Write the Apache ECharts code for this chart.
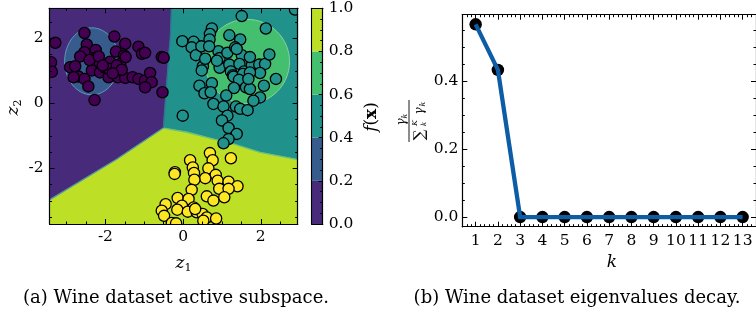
<!DOCTYPE html>
<html><head><meta charset="utf-8">
<script src="https://cdn.jsdelivr.net/npm/echarts@6/dist/echarts.min.js"></script>
<style>html,body{margin:0;padding:0;background:#fff}#c{width:756px;height:320px}</style>
</head><body><div id="c"></div>
<script>
// ---------------- data ----------------
// (a) active subspace: axis ranges and ticks
const zXRange = [-3.44, 2.95];
const zYRange = [-3.71, 2.92];
const zMajorTicks = [-2, 0, 2];
const zXMinorTicks = [-3, -2.5, -1.5, -1, -0.5, 0.5, 1, 1.5, 2.5];
const zYMinorTicks = [-3.5, -3, -2.5, -1.5, -1, -0.5, 0.5, 1, 1.5, 2.5];

// contour levels of f(x) and their colours
const levels = [0, 0.2, 0.4, 0.6, 0.8, 1.0];
const levelColors = ['#472a7a', '#375b8d', '#21918c', '#44bf70', '#bddf26'];
const cbMinorTicks = [0.05,0.1,0.15,0.25,0.3,0.35,0.45,0.5,0.55,0.65,0.7,0.75,0.85,0.9,0.95];

// region boundaries (z1, z2)
const edgeLowMid = [[-0.30, 2.92], [-0.33, 2.0], [-0.36, 1.6], [-0.41, 0.8], [-0.46, 0.0], [-0.51, -0.76]];
const edgeLowHigh = [[-0.51, -0.76], [-1.71, -1.72], [-3.44, -2.97]];
const edgeMidHigh = [[-0.51, -0.76], [0.10, -0.89], [0.78, -1.10], [1.29, -1.25], [1.98, -1.51], [2.95, -1.73]];
// elliptic blobs: [cz1, cz2, rz1, rz2, level index]
const blobLow = [-2.35, 1.29, 0.70, 1.03, 1];
const blobMid = [1.65, 1.28, 1.09, 1.30, 3];

// samples by class
const class0 = [[-3.29,1.86],[-3.40,1.26],[-3.38,0.97],[-2.54,2.16],[-1.77,2.05],[-2.48,1.81],[-1.49,1.83],[-1.15,1.74],[-2.54,1.57],[-2.25,1.64],[-2.65,1.44],[-2.27,1.39],[-1.73,1.59],[-1.52,1.47],[-1.06,1.52],[-0.98,1.55],[-0.55,1.42],[-0.50,1.40],[-2.91,1.11],[-2.78,1.14],[-2.14,1.23],[-1.88,1.28],[-1.62,1.21],[-2.69,0.82],[-2.54,0.75],[-2.35,1.01],[-2.14,0.95],[-2.01,1.09],[-1.88,1.01],[-1.92,0.80],[-1.68,0.80],[-1.49,0.78],[-1.30,0.80],[-1.15,0.75],[-0.98,0.70],[-0.85,0.93],[-0.81,0.65],[-2.44,0.52],[-0.98,0.49],[-2.28,0.10],[-0.53,0.34],[-2.82,0.80],[-1.92,1.06],[-2.41,1.33],[-2.17,1.44],[-2.07,1.16],[-1.71,1.16],[-1.58,1.03],[-1.48,1.42],[-1.81,0.92]];
const class1 = [[1.51,2.68],[2.13,2.30],[2.88,2.88],[0.74,2.30],[0.69,2.13],[0.68,1.96],[1.19,2.09],[1.47,1.96],[-0.02,1.91],[0.27,1.89],[0.22,1.72],[0.33,1.48],[0.51,1.14],[0.57,1.37],[0.91,1.60],[0.94,1.39],[0.94,1.09],[1.14,1.55],[1.34,1.72],[1.51,1.48],[1.19,1.19],[1.45,1.21],[1.23,0.98],[1.28,0.86],[1.57,0.98],[1.77,1.17],[1.96,1.19],[2.11,1.21],[2.22,1.50],[1.98,0.93],[0.42,0.54],[0.74,0.62],[0.55,0.31],[0.71,0.34],[1.30,0.82],[1.54,0.90],[1.72,0.95],[2.39,0.75],[1.44,0.72],[1.31,0.47],[1.62,0.49],[1.72,0.44],[2.08,0.54],[1.11,0.24],[1.98,0.18],[1.81,0.08],[0.78,-0.02],[1.04,-0.10],[1.36,-0.10],[1.47,-0.17],[1.66,-0.21],[-0.01,-0.38],[1.14,-0.38],[1.00,-0.53],[1.17,-0.76],[1.38,-0.94],[1.17,-1.10],[1.04,-1.23],[0.48,1.01],[1.72,1.42],[0.47,1.75],[0.67,1.75],[1.38,1.67],[0.87,1.31],[1.68,0.75]];
const class2 = [[0.69,-1.53],[1.23,-1.69],[0.76,-1.75],[0.18,-1.75],[-0.21,-2.12],[-0.22,-2.17],[0.25,-1.97],[0.28,-2.14],[0.65,-2.00],[0.84,-2.20],[0.57,-2.30],[0.29,-2.35],[0.89,-2.38],[1.17,-2.41],[1.40,-2.55],[0.93,-2.63],[1.17,-2.63],[0.22,-2.66],[0.61,-2.86],[0.78,-2.99],[1.06,-2.89],[-0.14,-2.91],[0.14,-2.94],[-0.45,-3.10],[-0.03,-3.15],[0.27,-3.20],[-0.15,-3.27],[-0.55,-3.30],[-0.49,-3.46],[0.12,-3.33],[0.35,-3.35],[0.50,-3.40],[0.61,-3.51],[0.85,-3.54],[-0.29,-3.68],[-0.18,-3.69],[0.52,-3.61],[0.31,-3.25]];
const classColors = ['#440154', '#21918c', '#fde725'];

// (b) eigenvalue decay
const kValues = [1,2,3,4,5,6,7,8,9,10,11,12,13];
const eigRatio = [0.567, 0.433, 0, 0, 0, 0, 0, 0, 0, 0, 0, 0, 0];
const kRange = [0.4, 13.6];
const ratioRange = [-0.02835, 0.59535];
const ratioTicks = [0, 0.2, 0.4];
const ratioMinorTicks = [0.05, 0.1, 0.15, 0.25, 0.3, 0.35, 0.45, 0.5, 0.55];
const kMinorTicks = [0.6,0.8,1.2,1.4,1.6,1.8,2.2,2.4,2.6,2.8,3.2,3.4,3.6,3.8,4.2,4.4,4.6,4.8,5.2,5.4,5.6,5.8,6.2,6.4,6.6,6.8,7.2,7.4,7.6,7.8,8.2,8.4,8.6,8.8,9.2,9.4,9.6,9.8,10.2,10.4,10.6,10.8,11.2,11.4,11.6,11.8,12.2,12.4,12.6,12.8,13.2,13.4];

// ---------------- chart ----------------
const FONT = 'DejaVu Serif';
const TICK_FS = 15.5;
const chart = echarts.init(document.getElementById('c'), null, {renderer: 'canvas', width: 756, height: 320});

const GL = {left: 49.5, top: 8.3, width: 248.2, height: 215.7};
const GC = {left: 311.7, top: 8.3, width: 11, height: 215.7};
const GR = {left: 462.3, top: 14.7, width: 297.2, height: 212};

function mkAxis(gridIndex, position, range, ticks, tickLen, labels, fmt, margin) {
  return {
    type: 'value', gridIndex: gridIndex, position: position, min: range[0], max: range[1], z: 10,
    axisLine: {show: true, onZero: false, lineStyle: {color: '#000', width: 1.1}},
    axisTick: {show: ticks.length > 0, inside: true, length: tickLen, customValues: ticks, lineStyle: {color: '#000', width: 1}},
    axisLabel: labels ? {show: true, customValues: labels, formatter: fmt, fontFamily: FONT, fontSize: TICK_FS, color: '#000', margin: margin} : {show: false},
    splitLine: {show: false}, minorTick: {show: false}, minorSplitLine: {show: false}
  };
}
const hyph = v => (v < 0 ? '-' : '') + Math.abs(v);

const xAxes = [
  mkAxis(0, 'bottom', zXRange, zMajorTicks, 5, zMajorTicks, hyph, 5),
  mkAxis(0, 'top', zXRange, zMajorTicks, 5, null),
  mkAxis(1, 'bottom', zXRange, zXMinorTicks, 2.5, null),
  mkAxis(1, 'top', zXRange, zXMinorTicks, 2.5, null),
  mkAxis(2, 'bottom', [0, 1], [], 0, null),
  mkAxis(2, 'top', [0, 1], [], 0, null),
  mkAxis(3, 'bottom', kRange, kValues, 5, kValues, v => '' + v, 6),
  mkAxis(3, 'top', kRange, kValues, 5, null),
  mkAxis(4, 'bottom', kRange, kMinorTicks, 2.5, null),
  mkAxis(4, 'top', kRange, kMinorTicks, 2.5, null),
  mkAxis(5, 'bottom', [0, 1], [], 0, null)
];
const yAxes = [
  mkAxis(0, 'left', zYRange, zMajorTicks, 5, zMajorTicks, hyph, 6),
  mkAxis(0, 'right', zYRange, zMajorTicks, 5, null),
  mkAxis(1, 'left', zYRange, zYMinorTicks, 2.5, null),
  mkAxis(1, 'right', zYRange, zYMinorTicks, 2.5, null),
  mkAxis(2, 'right', [0, 1], levels, 4, levels, v => v.toFixed(1), 6),
  mkAxis(2, 'left', [0, 1], [], 0, null),
  mkAxis(3, 'left', ratioRange, ratioTicks, 5, ratioTicks, v => v.toFixed(1), 4),
  mkAxis(3, 'right', ratioRange, ratioTicks, 5, null),
  mkAxis(4, 'left', ratioRange, ratioMinorTicks, 2.5, null),
  mkAxis(4, 'right', ratioRange, ratioMinorTicks, 2.5, null),
  mkAxis(5, 'right', [0, 1], cbMinorTicks, 2.5, null)
];

// polygons for the three plateau regions
const regionLow = [[zXRange[0], zYRange[1]]].concat(edgeLowMid, edgeLowHigh.slice(1));
const regionMid = edgeLowMid.concat(edgeMidHigh.slice(1), [[zXRange[1], zYRange[1]]]);
const regionHigh = [[zXRange[0], zYRange[0]]].concat(edgeLowHigh.slice().reverse(), edgeMidHigh.slice(1), [[zXRange[1], zYRange[0]]]);
const regions = [[regionLow, 0], [regionMid, 2], [regionHigh, 4]];

function clipOf(params) {
  const c = params.coordSys;
  return {type: 'rect', shape: {x: c.x, y: c.y, width: c.width, height: c.height}};
}

const series = [];
series.push({
  type: 'custom', xAxisIndex: 0, yAxisIndex: 0, silent: true, z: 1,
  data: regions.map((r, i) => [i]),
  renderItem: function (params, api) {
    const r = regions[params.dataIndex];
    return {type: 'polygon', shape: {points: r[0].map(p => api.coord(p))},
      style: {fill: levelColors[r[1]], stroke: levelColors[r[1]], lineWidth: 0.5}};
  }
});
// thin transition lines between plateaus
const edges = [[edgeLowHigh, '#4f97a6'], [edgeMidHigh, '#6cc27a'], [edgeLowMid, '#2f7390']];
series.push({
  type: 'custom', xAxisIndex: 0, yAxisIndex: 0, silent: true, z: 2,
  data: edges.map((e, i) => [i]),
  renderItem: function (params, api) {
    const e = edges[params.dataIndex];
    return {type: 'polyline', shape: {points: e[0].map(p => api.coord(p))},
      style: {fill: null, stroke: e[1], lineWidth: 1.3}, clipPath: clipOf(params)};
  }
});
const blobs = [[blobLow, '#5a9bbb'], [blobMid, '#86d39a']];
series.push({
  type: 'custom', xAxisIndex: 0, yAxisIndex: 0, silent: true, z: 3,
  data: blobs.map((b, i) => [i]),
  renderItem: function (params, api) {
    const b = blobs[params.dataIndex][0];
    const c = api.coord([b[0], b[1]]);
    const s = api.size([b[2], b[3]]);
    return {type: 'ellipse', shape: {cx: c[0], cy: c[1], rx: s[0], ry: s[1]},
      style: {fill: levelColors[b[4]], stroke: blobs[params.dataIndex][1], lineWidth: 1}};
  }
});
[class0, class1, class2].forEach((cls, ci) => {
  series.push({
    type: 'custom', xAxisIndex: 0, yAxisIndex: 0, silent: true, z: 5,
    data: cls,
    renderItem: function (params, api) {
      const p = api.coord([api.value(0), api.value(1)]);
      return {type: 'circle', shape: {cx: p[0], cy: p[1], r: 5.6},
        style: {fill: classColors[ci], stroke: '#000', lineWidth: 1.3}, clipPath: clipOf(params)};
    }
  });
});
// colorbar
const bands = levelColors.map((c, i) => [levels[i], levels[i + 1], i]);
series.push({
  type: 'custom', xAxisIndex: 4, yAxisIndex: 4, silent: true, z: 1,
  data: bands,
  renderItem: function (params, api) {
    const lo = api.coord([0, api.value(0)]);
    const hi = api.coord([1, api.value(1)]);
    return {type: 'rect', shape: {x: lo[0], y: hi[1], width: hi[0] - lo[0], height: lo[1] - hi[1]},
      style: {fill: levelColors[api.value(2)]}};
  }
});
// eigenvalues
series.push({
  type: 'scatter', xAxisIndex: 6, yAxisIndex: 6, silent: true, z: 2,
  data: kValues.map((k, i) => [k, eigRatio[i]]),
  symbol: 'circle', symbolSize: 12.5, itemStyle: {color: '#000', opacity: 1}
});
series.push({
  type: 'line', xAxisIndex: 6, yAxisIndex: 6, silent: true, z: 3,
  data: kValues.map((k, i) => [k, eigRatio[i]]),
  showSymbol: false, symbol: 'none',
  lineStyle: {color: '#0c5da5', width: 4.3, cap: 'butt', join: 'miter', opacity: 1}
});

// texts
const txt = (x, y, text, size, extra) => ({type: 'text', x: x, y: y, style: Object.assign({text: text, fontFamily: FONT, fontSize: size, fill: '#000', align: 'center', verticalAlign: 'middle'}, extra || {})});
const graphics = [
  txt(176, 298, '(a) Wine dataset active subspace.', 18),
  txt(577, 298, '(b) Wine dataset eigenvalues decay.', 18),
  // z1
  txt(180, 264, 'z', 17, {fontStyle: 'italic'}),
  txt(188, 268, '1', 11),
  // k
  txt(612, 263, 'k', 17, {fontStyle: 'italic'}),
  // z2 rotated
  {type: 'group', x: 14, y: 108, rotation: Math.PI / 2, children: [
    txt(-3, 0, 'z', 17, {fontStyle: 'italic'}),
    txt(5, 4, '2', 11)
  ]},
  // f(x) rotated
  {type: 'group', x: 372, y: 117, rotation: Math.PI / 2, children: [
    {type: 'text', x: 0, y: 0, style: {text: '{i|f}({b|x})', fontFamily: FONT, fontSize: 17, fill: '#000', align: 'center', verticalAlign: 'middle',
      rich: {i: {fontStyle: 'italic', fontFamily: FONT, fontSize: 17}, b: {fontWeight: 'bold', fontFamily: FONT, fontSize: 17}}}}
  ]},
  // fraction label
  {type: 'group', x: 409, y: 121, rotation: Math.PI / 2, children: [
    {type: 'line', shape: {x1: -21, y1: 0, x2: 21, y2: 0}, style: {stroke: '#000', lineWidth: 0.9}},
    txt(-1, -7, 'γ', 12, {fontStyle: 'italic'}),
    txt(5, -4, 'k', 8, {fontStyle: 'italic'}),
    txt(-14, 11, '∑', 15),
    txt(-2, 6, 'K', 8, {fontStyle: 'italic'}),
    txt(-3, 15, 'k', 7, {fontStyle: 'italic'}),
    txt(10, 11, 'γ', 12, {fontStyle: 'italic'}),
    txt(17, 14, 'k', 8, {fontStyle: 'italic'})
  ]}
];

chart.setOption({
  animation: false,
  backgroundColor: '#fff',
  grid: [
    Object.assign({}, GL), Object.assign({}, GL), Object.assign({}, GC),
    Object.assign({}, GR), Object.assign({}, GR), Object.assign({}, GC)
  ],
  xAxis: xAxes,
  yAxis: yAxes,
  series: series,
  graphic: graphics
});
</script>
</body></html>
